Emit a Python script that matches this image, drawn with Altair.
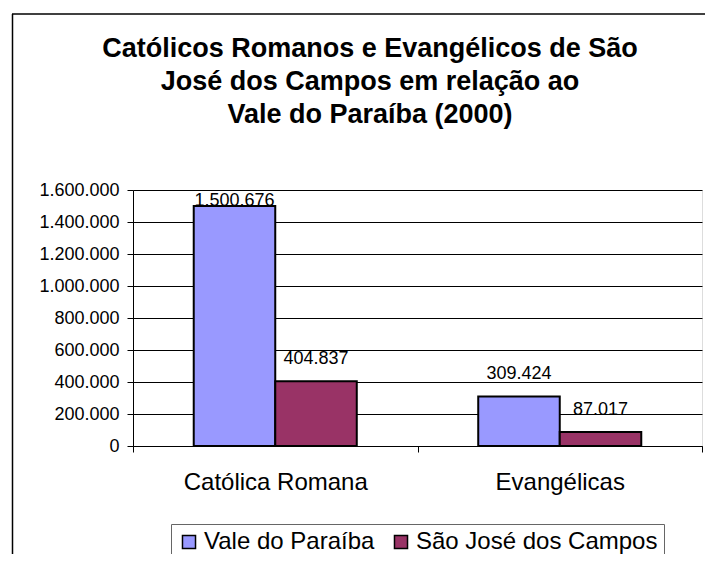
import altair as alt
import pandas as pd

categories = ["Católica Romana", "Evangélicas"]
series = ["Vale do Paraíba", "São José dos Campos"]
vale_values = [1500676, 309424]
sjc_values = [404837, 87017]
y_ticks = [0, 200000, 400000, 600000, 800000, 1000000, 1200000, 1400000, 1600000]
title_lines = [
    "Católicos Romanos e Evangélicos de São",
    "José dos Campos em relação ao",
    "Vale do Paraíba (2000)",
]

rows = []
for i, c in enumerate(categories):
    rows.append({"category": c, "series": series[0], "value": vale_values[i]})
    rows.append({"category": c, "series": series[1], "value": sjc_values[i]})
df = pd.DataFrame(rows)

W, H = 569, 256
FONT = "Liberation Sans"
dotfmt = "join(split(format({v}, ','), ','), '.')"

x_enc = alt.X(
    "category:N",
    sort=categories,
    scale=alt.Scale(paddingInner=0, paddingOuter=0),
    axis=alt.Axis(
        title=None, labelAngle=0, tickBand="extent", labelFontSize=24,
        labelFont=FONT, labelColor="black", labelPadding=18, labelLimit=0,
        domainColor="black", domainWidth=1, tickColor="black", tickSize=6,
        grid=False,
    ),
)
xoff_enc = alt.XOffset(
    "series:N", sort=series,
    scale=alt.Scale(domain=series, paddingOuter=0.745, paddingInner=0),
)
y_scale = alt.Scale(domain=[0, 1600000], nice=False)
y_axis = alt.Axis(
    title=None, values=y_ticks, labelExpr=dotfmt.format(v="datum.value"),
    labelFontSize=18, labelFont=FONT, labelColor="black", labelPadding=8,
    labelOverlap=False, domainColor="black", tickColor="black", tickSize=6,
    grid=True, gridColor="black", gridWidth=1, gridOpacity=1,
)

bars = alt.Chart(df).mark_bar(stroke="black", strokeWidth=2).encode(
    x=x_enc,
    xOffset=xoff_enc,
    y=alt.Y("value:Q", scale=y_scale, axis=y_axis),
    color=alt.Color(
        "series:N",
        sort=series,
        scale=alt.Scale(domain=series, range=["#9999FF", "#993366"]),
        legend=alt.Legend(
            title=None, orient="none", legendX=38, legendY=334,
            direction="horizontal", labelFontSize=24, labelFont=FONT,
            labelColor="black", labelLimit=0, symbolType="square", symbolSize=170,
            symbolStrokeColor="black", symbolStrokeWidth=1.5, symbolOpacity=1,
            strokeColor="#666666", fillColor="white", padding=6,
            columnPadding=14, labelOffset=3,
        ),
    ),
)

labels = alt.Chart(df).transform_calculate(
    label=dotfmt.format(v="datum.value"),
    label_y="min(datum.value + 137500, 1531000)",
).mark_text(fontSize=18, font=FONT, color="black", baseline="middle").encode(
    x=alt.X("category:N", sort=categories),
    xOffset=alt.XOffset("series:N", sort=series),
    y=alt.Y("label_y:Q", scale=y_scale, axis=y_axis),
    text="label:N",
)

one = pd.DataFrame({"a": [0]})
border_left = alt.Chart(one).mark_rule(color="black", strokeWidth=1.5).encode(
    x=alt.value(-120.5), y=alt.value(-176), y2=alt.value(H + 200),
)
border_top = alt.Chart(one).mark_rule(color="black", strokeWidth=1.5).encode(
    x=alt.value(-121), x2=alt.value(W + 60), y=alt.value(-176),
)

title_marks = [
    alt.Chart(one).mark_text(
        text=line, fontSize=27, font=FONT, fontWeight="bold", color="black",
        align="center", baseline="alphabetic",
    ).encode(x=alt.value(237), y=alt.value(base))
    for line, base in zip(title_lines, [57 - 190, 90 - 190, 123 - 190])
]

chart = alt.layer(bars, labels, border_left, border_top, *title_marks).properties(
    width=W,
    height=H,
    autosize=alt.AutoSizeParams(type="none"),
    padding={"left": 125, "top": 182, "right": 3, "bottom": 108},
).configure_view(
    fill="#C0C0C0", stroke="#808080", strokeWidth=2
).configure(background="white")

chart.save("out.html", embed_options={"renderer": "svg", "actions": False})
